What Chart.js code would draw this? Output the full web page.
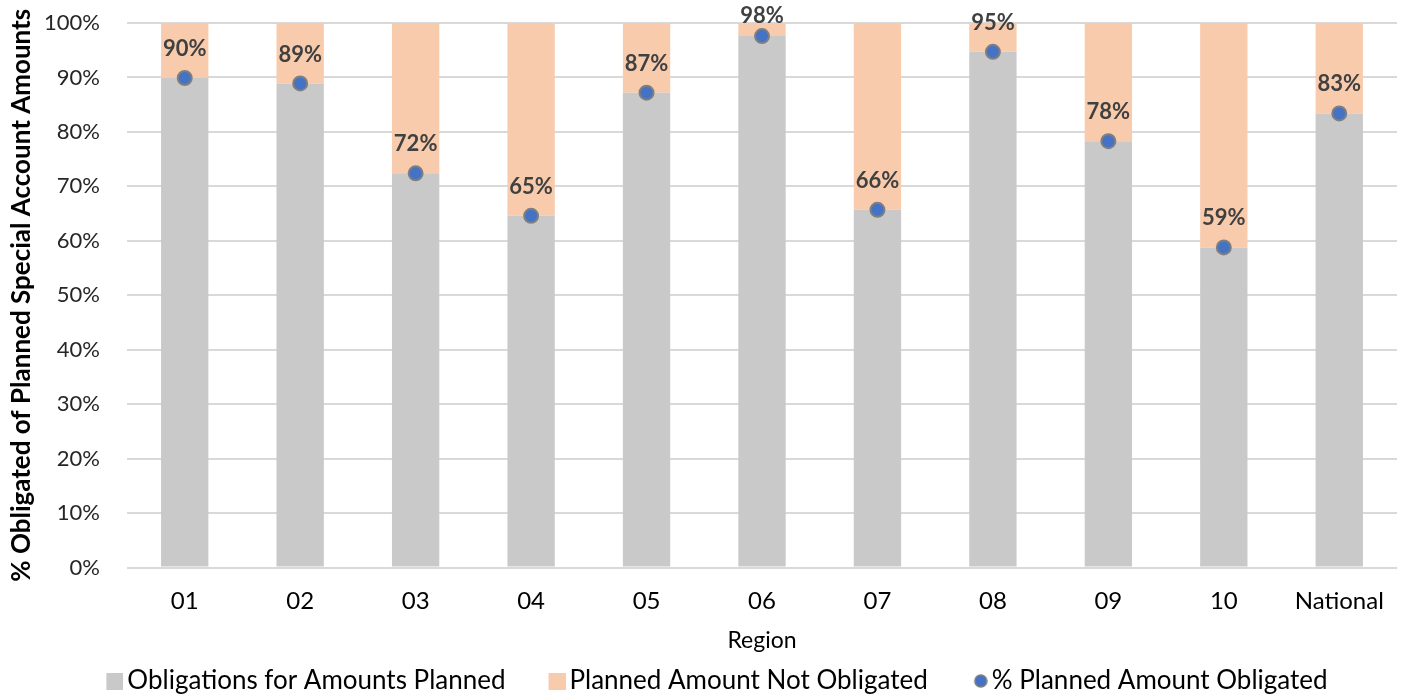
<!DOCTYPE html>
<html>
<head>
<meta charset="utf-8">
<script src="https://cdn.jsdelivr.net/npm/chart.js@4/dist/chart.umd.min.js"></script>
<style>
  html, body { margin: 0; padding: 0; background: #fff; }
  #wrap { width: 1408px; height: 694px; }
</style>
</head>
<body>
<div id="wrap"><canvas id="chart"></canvas></div>
<script>
// Chart data
const regions = ['01', '02', '03', '04', '05', '06', '07', '08', '09', '10', 'National'];
const obligatedPct = [89.9, 88.9, 72.4, 64.6, 87.2, 97.6, 65.7, 94.7, 78.3, 58.8, 83.4];
const notObligatedPct = obligatedPct.map(v => 100 - v);
const yTicks = [0, 10, 20, 30, 40, 50, 60, 70, 80, 90, 100];

const FONT = "Lato, 'Open Sans', sans-serif";
const GRAY = '#C9C9C9';
const PEACH = '#F8CBAD';
const BLUE = '#4472C4';

// legend markers: drawn at the right end of a wider transparent canvas,
// so the marker sits close to its text and far from the previous item
const LEG_BOX = 45;
const LEG_W = LEG_BOX + 18;
function makeSwatch(color, size) {
    const c = document.createElement('canvas');
    c.width = LEG_W; c.height = size;
    const g = c.getContext('2d');
    g.fillStyle = color;
    g.fillRect(LEG_W - size, 0, size, size);
    return c;
}
function makeDot(size) {
    const c = document.createElement('canvas');
    c.width = LEG_W; c.height = size;
    const g = c.getContext('2d');
    g.beginPath();
    g.arc(LEG_W - size / 2, size / 2, size / 2 - 1, 0, Math.PI * 2);
    g.fillStyle = BLUE;
    g.fill();
    g.lineWidth = 1.5;
    g.strokeStyle = '#7F7F7F';
    g.stroke();
    return c;
}
const legendMarks = [makeSwatch(GRAY, 17), makeSwatch(PEACH, 17), makeDot(14)];

// Draws the rounded % labels above each dot
const pointLabels = {
    id: 'pointLabels',
    afterDatasetsDraw(chart) {
        const meta = chart.getDatasetMeta(2);
        const ctx = chart.ctx;
        ctx.save();
        ctx.font = `bold 22px ${FONT}`;
        ctx.fillStyle = '#404040';
        ctx.textAlign = 'center';
        ctx.textBaseline = 'middle';
        meta.data.forEach((pt, i) => {
            const y = Math.max(pt.y - 29, 16);
            ctx.fillText(Math.round(obligatedPct[i]) + '%', pt.x, y);
        });
        ctx.restore();
    }
};

new Chart(document.getElementById('chart'), {
    type: 'bar',
    data: {
        labels: regions,
        datasets: [
            {
                label: 'Obligations for Amounts Planned',
                data: obligatedPct,
                backgroundColor: GRAY,
                stack: 'bars',
                order: 1
            },
            {
                label: 'Planned Amount Not Obligated',
                data: notObligatedPct,
                backgroundColor: PEACH,
                stack: 'bars',
                order: 1
            },
            {
                type: 'line',
                label: '% Planned Amount Obligated',
                data: obligatedPct,
                showLine: false,
                stack: 'dots',
                pointStyle: 'circle',
                pointRadius: 7,
                pointHoverRadius: 7,
                pointBackgroundColor: BLUE,
                pointBorderColor: '#7F7F7F',
                pointBorderWidth: 2,
                backgroundColor: BLUE,
                borderColor: '#7F7F7F',
                borderWidth: 2,
                order: 0
            }
        ]
    },
    options: {
        responsive: true,
        maintainAspectRatio: false,
        animation: false,
        categoryPercentage: 1,
        barPercentage: 0.41,
        layout: {
            padding: { left: 0, right: 11, top: 23, bottom: -10 }
        },
        plugins: {
            legend: {
                position: 'bottom',
                labels: {
                    usePointStyle: true,
                    pointStyleWidth: LEG_BOX,
                    boxWidth: LEG_BOX,
                    boxHeight: 16,
                    padding: 6,
                    color: '#000',
                    font: { family: FONT, size: 26 },
                    generateLabels: chart => {
                        const items = Chart.defaults.plugins.legend.labels.generateLabels(chart);
                        items.sort((a, b) => a.datasetIndex - b.datasetIndex);
                        items.forEach(it => { it.pointStyle = legendMarks[it.datasetIndex]; });
                        return items;
                    }
                }
            },
            tooltip: { enabled: false }
        },
        scales: {
            x: {
                stacked: true,
                grid: { display: false },
                border: { display: false },
                ticks: {
                    color: '#000',
                    padding: 11,
                    font: { family: FONT, size: 24 }
                },
                title: {
                    display: true,
                    text: 'Region',
                    color: '#000',
                    font: { family: FONT, size: 23 },
                    padding: { top: 0, bottom: 8 }
                }
            },
            y: {
                stacked: true,
                min: 0,
                max: 100,
                afterBuildTicks: scale => {
                    scale.ticks = yTicks.map(v => ({ value: v }));
                },
                afterFit: scale => { scale.width = 127; },
                grid: {
                    color: '#D9D9D9',
                    lineWidth: 2,
                    drawTicks: true,
                    tickLength: 27,
                    tickColor: 'rgba(0,0,0,0)'
                },
                border: { display: false },
                ticks: {
                    color: '#262626',
                    padding: 0,
                    font: { family: FONT, size: 22 },
                    callback: v => v + '%'
                },
                title: {
                    display: true,
                    text: '% Obligated of Planned Special Account Amounts',
                    color: '#000',
                    font: { family: FONT, size: 26, weight: 'bold' },
                    padding: { top: 6, bottom: 0 }
                }
            }
        }
    },
    plugins: [pointLabels]
});
</script>
</body>
</html>
